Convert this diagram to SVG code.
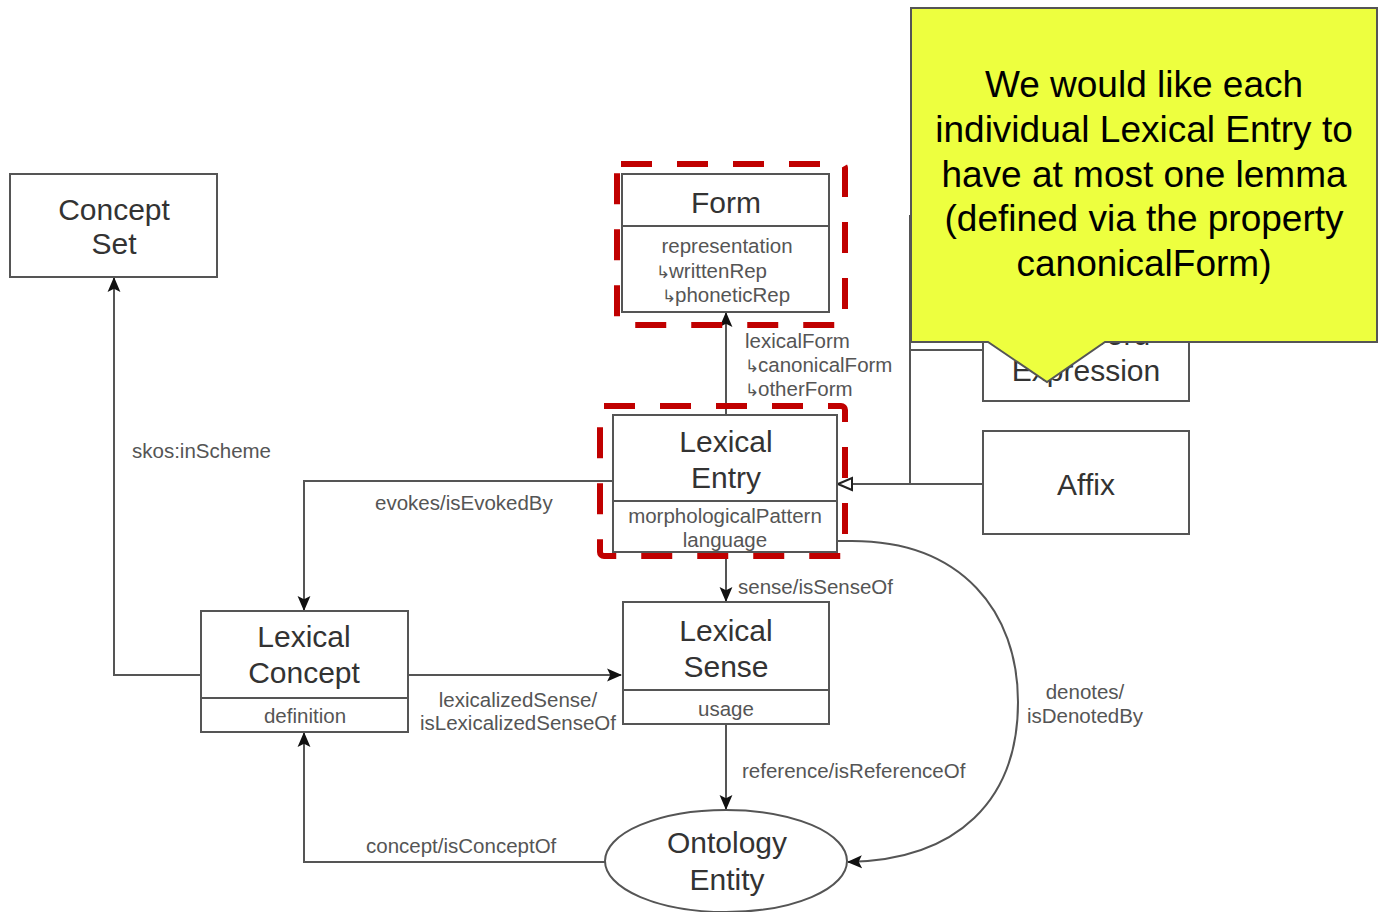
<svg xmlns="http://www.w3.org/2000/svg" width="1378" height="912" viewBox="0 0 1378 912">
  <style>
    .box { fill: #ffffff; stroke: #555555; stroke-width: 2; }
    .div { stroke: #555555; stroke-width: 2; }
    .title { font-family: "Liberation Sans", Arial, sans-serif; font-size: 30px; fill: #333333; text-anchor: middle; }
    .attr { font-family: "Liberation Sans", Arial, sans-serif; font-size: 20.5px; fill: #555555; text-anchor: middle; }
    .lbl { font-family: "Liberation Sans", Arial, sans-serif; font-size: 20.5px; fill: #555555; }
    .sub { font-size: 17px; }
    .edge { fill: none; stroke: #555555; stroke-width: 2; }
    .hl { fill: none; stroke: #c00000; stroke-width: 6; stroke-dasharray: 31 25; }
    .note { fill: #edff3f; stroke: #555555; stroke-width: 2; }
    .notetext { font-family: "Liberation Sans", Arial, sans-serif; font-size: 37px; fill: #000000; text-anchor: middle; }
  </style>
  <defs>
    <marker id="arrow" viewBox="0 0 14 14" refX="13" refY="7" markerWidth="15" markerHeight="15" markerUnits="userSpaceOnUse" orient="auto">
      <path d="M0,1 L14,7 L0,13 L3,7 Z" fill="#111111"/>
    </marker>
    <marker id="tri" viewBox="0 0 16 16" refX="15" refY="8" markerWidth="16" markerHeight="16" markerUnits="userSpaceOnUse" orient="auto">
      <path d="M1,2 L15,8 L1,14 Z" fill="#ffffff" stroke="#222222" stroke-width="2"/>
    </marker>
  </defs>

  <rect width="1378" height="912" fill="#ffffff"/>

  <!-- connectors -->
  <g id="connectors">
    <path class="edge" d="M726,415 L726,313" marker-end="url(#arrow)"/>
    <path class="edge" d="M726,552 L726,601" marker-end="url(#arrow)"/>
    <path class="edge" d="M726,724 L726,809" marker-end="url(#arrow)"/>
    <path class="edge" d="M408,675 L621,675" marker-end="url(#arrow)"/>
    <path class="edge" d="M613,481 L304,481 L304,610" marker-end="url(#arrow)"/>
    <path class="edge" d="M201,675 L114,675 L114,278" marker-end="url(#arrow)"/>
    <path class="edge" d="M605,862 L304,862 L304,733" marker-end="url(#arrow)"/>
    <path class="edge" d="M837,541 L852,541 C962,541 1018,612 1018,702 C1018,800 958,860 848,862" marker-end="url(#arrow)"/>
    <path class="edge" d="M983,484 L838,484" marker-end="url(#tri)"/>
    <path class="edge" d="M910,484 L910,215"/>
    <path class="edge" d="M910,350 L983,350"/>

    <text class="lbl" x="745" y="348">lexicalForm</text>
    <text class="lbl" x="745" y="372"><tspan class="sub">↳</tspan><tspan dx="-1">canonicalForm</tspan></text>
    <text class="lbl" x="745" y="396"><tspan class="sub">↳</tspan><tspan dx="-1">otherForm</tspan></text>
    <text class="lbl" x="738" y="594">sense/isSenseOf</text>
    <text class="lbl" x="742" y="778">reference/isReferenceOf</text>
    <text class="lbl" x="518" y="707" text-anchor="middle">lexicalizedSense/</text>
    <text class="lbl" x="518" y="730" text-anchor="middle">isLexicalizedSenseOf</text>
    <text class="lbl" x="375" y="510">evokes/isEvokedBy</text>
    <text class="lbl" x="132" y="458">skos:inScheme</text>
    <text class="lbl" x="366" y="853">concept/isConceptOf</text>
    <text class="lbl" x="1085" y="699" text-anchor="middle">denotes/</text>
    <text class="lbl" x="1085" y="723" text-anchor="middle">isDenotedBy</text>
  </g>

  <!-- Concept Set -->
  <g id="concept-set">
    <rect class="box" x="10" y="174" width="207" height="103"/>
    <text class="title" x="114" y="220">Concept</text>
    <text class="title" x="114" y="254">Set</text>
  </g>

  <!-- Form -->
  <g id="form">
    <rect class="box" x="622" y="174" width="207" height="138"/>
    <line class="div" x1="622" y1="226" x2="829" y2="226"/>
    <text class="title" x="726" y="213">Form</text>
    <text class="attr" x="727" y="253">representation</text>
    <text class="lbl" x="656" y="278"><tspan class="sub">↳</tspan><tspan dx="-1">writtenRep</tspan></text>
    <text class="lbl" x="662" y="302"><tspan class="sub">↳</tspan><tspan dx="-1">phoneticRep</tspan></text>
    <rect class="hl" x="617" y="164" width="228" height="161" rx="4"/>
  </g>

  <!-- Lexical Entry -->
  <g id="lexical-entry">
    <rect class="box" x="613" y="415" width="224" height="137"/>
    <line class="div" x1="613" y1="501" x2="837" y2="501"/>
    <text class="title" x="726" y="452">Lexical</text>
    <text class="title" x="726" y="488">Entry</text>
    <text class="attr" x="725" y="523">morphologicalPattern</text>
    <text class="attr" x="725" y="547">language</text>
    <rect class="hl" x="600" y="406" width="245" height="150" rx="4"/>
  </g>

  <!-- Lexical Sense -->
  <g id="lexical-sense">
    <rect class="box" x="623" y="602" width="206" height="122"/>
    <line class="div" x1="623" y1="690" x2="829" y2="690"/>
    <text class="title" x="726" y="641">Lexical</text>
    <text class="title" x="726" y="677">Sense</text>
    <text class="attr" x="726" y="716">usage</text>
  </g>

  <!-- Lexical Concept -->
  <g id="lexical-concept">
    <rect class="box" x="201" y="611" width="207" height="121"/>
    <line class="div" x1="201" y1="698" x2="408" y2="698"/>
    <text class="title" x="304" y="647">Lexical</text>
    <text class="title" x="304" y="683">Concept</text>
    <text class="attr" x="305" y="723">definition</text>
  </g>

  <!-- Ontology Entity -->
  <g id="ontology-entity">
    <ellipse class="box" cx="726" cy="861" rx="121" ry="51"/>
    <text class="title" x="727" y="853">Ontology</text>
    <text class="title" x="727" y="890">Entity</text>
  </g>

  <!-- Affix -->
  <g id="affix">
    <rect class="box" x="983" y="431" width="206" height="103"/>
    <text class="title" x="1086" y="495">Affix</text>
  </g>

  <!-- Multiword Expression -->
  <g id="multiword-expression">
    <rect class="box" x="983" y="298" width="206" height="103"/>
    <text class="title" x="1086" y="345">Multiword</text>
    <text class="title" x="1086" y="381">Expression</text>
  </g>

  <!-- annotation callout -->
  <g id="callout">
    <path class="note" d="M911,8 L1377,8 L1377,342 L1105,342 L1047,382 L988,342 L911,342 Z"/>
    <text class="notetext" x="1144" y="97">We would like each</text>
    <text class="notetext" x="1144" y="142">individual Lexical Entry to</text>
    <text class="notetext" x="1144" y="187">have at most one lemma</text>
    <text class="notetext" x="1144" y="231">(defined via the property</text>
    <text class="notetext" x="1144" y="276">canonicalForm)</text>
  </g>
</svg>
